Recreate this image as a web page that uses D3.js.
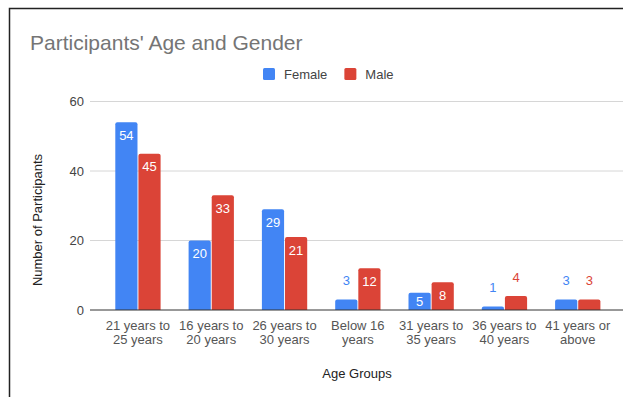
<!DOCTYPE html>
<html>
<head>
<meta charset="utf-8">
<script src="https://cdn.jsdelivr.net/npm/d3@7"></script>
<style>
  html, body { margin: 0; padding: 0; background: #fff; }
  svg { display: block; font-family: "Liberation Sans", Arial, sans-serif; }
</style>
</head>
<body>
<svg id="chart" width="623" height="397"></svg>
<script>
/* ── Data ─────────────────────────────────────────────── */
const categories = [
  ["21 years to", "25 years"],
  ["16 years to", "20 years"],
  ["26 years to", "30 years"],
  ["Below 16", "years"],
  ["31 years to", "35 years"],
  ["36 years to", "40 years"],
  ["41 years or", "above"]
];
const seriesNames = ["Female", "Male"];
const female = [54, 20, 29, 3, 5, 1, 3];
const male   = [45, 33, 21, 12, 8, 4, 3];
const yTicks = [0, 20, 40, 60];

const COLORS = ["#4285f4", "#db4437"];

const svg = d3.select("#chart");

/* frame border (top + left edges visible) */
svg.append("path")
  .attr("d", "M9.5,397 V8.5 H623")
  .attr("fill", "none").attr("stroke", "#222").attr("stroke-width", 1.5);

const x = d3.scaleBand()
  .domain(d3.range(categories.length))
  .range([101.3, 614.4])
  .paddingInner(0).paddingOuter(0);

const x1 = d3.scaleBand()
  .domain([0, 1])
  .range([0, x.bandwidth() * 0.618])
  .paddingInner(0.04);

const y = d3.scaleLinear().domain([0, 60]).range([310, 101.5]);

/* gridlines */
svg.append("g").selectAll("line")
  .data(yTicks.filter(d => d > 0))
  .join("line")
  .attr("x1", 90).attr("x2", 623)
  .attr("y1", d => y(d)).attr("y2", d => y(d))
  .attr("stroke", "#d6d6d6").attr("stroke-width", 1);

/* y tick labels */
svg.append("g").selectAll("text")
  .data(yTicks)
  .join("text")
  .attr("x", 84).attr("y", d => y(d) + 4.5)
  .attr("text-anchor", "end")
  .attr("font-size", 13).attr("fill", "#444")
  .text(d => d);

/* bars */
const rows = categories.map((c, i) => [female[i], male[i]]);
const groups = svg.append("g").selectAll("g")
  .data(rows)
  .join("g")
  .attr("transform", (d, i) => `translate(${x(i) + x.bandwidth() * (1 - 0.618) / 2},0)`);

groups.selectAll("path")
  .data(d => d.map((v, s) => ({ v, s })))
  .join("path")
  .attr("fill", d => COLORS[d.s])
  .attr("d", d => {
    const x0 = x1(d.s), w = x1.bandwidth(), top = y(d.v), bot = y(0), r = 2;
    return `M${x0},${bot} V${top + r} Q${x0},${top} ${x0 + r},${top} H${x0 + w - r} Q${x0 + w},${top} ${x0 + w},${top + r} V${bot} Z`;
  });

/* value labels */
groups.selectAll("text")
  .data(d => d.map((v, s) => ({ v, s })))
  .join("text")
  .attr("x", d => x1(d.s) + x1.bandwidth() / 2)
  .attr("y", d => {
    const h = y(0) - y(d.v);
    if (h < 16) return y(d.v) - 19 + 4.5;
    return y(d.v) + Math.min(13, h / 2) + 4.5;
  })
  .attr("text-anchor", "middle")
  .attr("font-size", 13)
  .attr("fill", d => (y(0) - y(d.v) < 16 ? COLORS[d.s] : "#fff"))
  .text(d => d.v);

/* baseline */
svg.append("line")
  .attr("x1", 90).attr("x2", 623)
  .attr("y1", y(0)).attr("y2", y(0))
  .attr("stroke", "#333").attr("stroke-width", 1);

/* category labels */
const catG = svg.append("g").selectAll("text")
  .data(categories)
  .join("text")
  .attr("text-anchor", "middle")
  .attr("font-size", 13).attr("fill", "#555");
catG.each(function (lines, i) {
  d3.select(this).selectAll("tspan")
    .data(lines)
    .join("tspan")
    .attr("x", x(i) + x.bandwidth() / 2)
    .attr("y", (d, k) => 329.5 + k * 14.5)
    .text(d => d);
});

/* axis titles */
svg.append("text")
  .attr("x", 357).attr("y", 377.5)
  .attr("text-anchor", "middle")
  .attr("font-size", 13).attr("fill", "#222")
  .text("Age Groups");

svg.append("text")
  .attr("transform", "translate(42,220) rotate(-90)")
  .attr("text-anchor", "middle")
  .attr("font-size", 13).attr("fill", "#222")
  .text("Number of Participants");

/* title */
svg.append("text")
  .attr("x", 30).attr("y", 50)
  .attr("font-size", 21).attr("fill", "#757575")
  .text("Participants' Age and Gender");

/* legend */
const legend = svg.append("g").attr("transform", "translate(263,68)");
let lx = 0;
seriesNames.forEach((name, s) => {
  const g = legend.append("g").attr("transform", `translate(${lx},0)`);
  g.append("rect").attr("width", 12).attr("height", 12).attr("rx", 1.5)
    .attr("fill", COLORS[s]);
  const t = g.append("text").attr("x", 21).attr("y", 11)
    .attr("font-size", 13).attr("fill", "#444").text(name);
  lx += 21 + t.node().getComputedTextLength() + 17;
});
</script>
</body>
</html>
